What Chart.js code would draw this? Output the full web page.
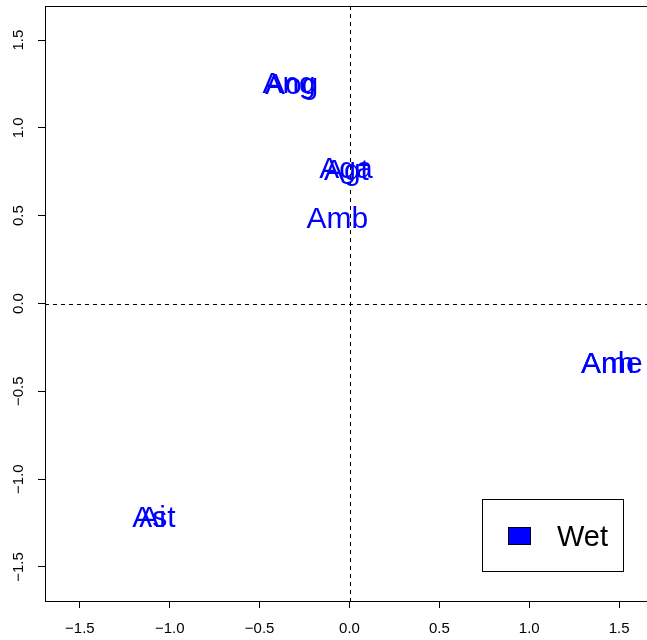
<!DOCTYPE html>
<html lang="en">
<head>
    <meta charset="UTF-8">
    <title>Ordination plot</title>
    <script type="text/javascript" src="https://cdn.jsdelivr.net/npm/chart.js@4.4.0/dist/chart.umd.min.js"></script>
    <style type="text/css">
        html, body {
            margin: 0; padding: 0;
            overflow: hidden;
            background: #ffffff;
        }
        #container {
            width: 660px;
            height: 640px;
        }
    </style>
</head>

<body>
    <div id="container">
        <canvas id="plot" width="660" height="640"></canvas>
    </div>

    <script>
        // Site labels and their coordinates on the two axes
        const siteLabels = ['Ang', 'Aog', 'Aga', 'Agt', 'Amb', 'Anh', 'Ame', 'Ai', 'Ast'];
        const axis1 = [-0.336, -0.322, -0.02, -0.017, -0.067, 1.437, 1.46, -1.095, -1.088];
        const axis2 = [1.256, 1.25, 0.772, 0.765, 0.487, -0.334, -0.334, -1.214, -1.214];

        const groupName = 'Wet';
        const xTicks = [-1.5, -1.0, -0.5, 0.0, 0.5, 1.0, 1.5];
        const yTicks = [-1.5, -1.0, -0.5, 0.0, 0.5, 1.0, 1.5];
        const axisMin = -1.694;
        const axisMax = 1.694;

        const FONT = '"Liberation Sans", Arial, Helvetica, sans-serif';

        function fmtTick(v) {
            return v.toFixed(1).replace('-', '\u2212');
        }

        // Draws the site names in place of the points
        const siteText = {
            id: 'siteText',
            afterDatasetsDraw(chart) {
                const ctx = chart.ctx;
                const meta = chart.getDatasetMeta(0);
                ctx.save();
                ctx.font = '30px ' + FONT;
                ctx.fillStyle = '#0000ff';
                ctx.textAlign = 'center';
                ctx.textBaseline = 'alphabetic';
                meta.data.forEach((pt, i) => {
                    ctx.fillText(siteLabels[i], pt.x, pt.y + 10.5);
                });
                ctx.restore();
            }
        };

        // Frame, dashed zero lines, rotated y labels and the legend box
        const decorations = {
            id: 'decorations',
            beforeDatasetsDraw(chart) {
                const ctx = chart.ctx;
                const area = chart.chartArea;
                const xs = chart.scales.x;
                const ys = chart.scales.y;
                ctx.save();
                ctx.strokeStyle = '#000000';
                ctx.lineWidth = 1;
                ctx.setLineDash([4, 4]);
                const x0 = Math.round(xs.getPixelForValue(0)) + 0.5;
                const y0 = Math.round(ys.getPixelForValue(0)) + 0.5;
                ctx.beginPath();
                ctx.moveTo(x0, area.top);
                ctx.lineTo(x0, area.bottom);
                ctx.moveTo(area.left, y0);
                ctx.lineTo(area.right, y0);
                ctx.stroke();
                ctx.restore();
            },
            afterDraw(chart) {
                const ctx = chart.ctx;
                const area = chart.chartArea;
                const ys = chart.scales.y;
                ctx.save();
                ctx.strokeStyle = '#000000';
                ctx.lineWidth = 1;
                ctx.strokeRect(area.left + 0.5, area.top + 0.5, area.right - area.left, area.bottom - area.top);

                // y tick labels, rotated like base R
                ctx.fillStyle = '#000000';
                ctx.font = '15px ' + FONT;
                ctx.textAlign = 'center';
                ctx.textBaseline = 'middle';
                yTicks.forEach(v => {
                    const py = ys.getPixelForValue(v);
                    ctx.save();
                    ctx.translate(19, py);
                    ctx.rotate(-Math.PI / 2);
                    ctx.fillText(fmtTick(v), 0, 0);
                    ctx.restore();
                });

                // legend
                ctx.lineWidth = 1;
                ctx.strokeStyle = '#000000';
                ctx.strokeRect(482.5, 499.5, 141, 72);
                ctx.fillStyle = '#0000ff';
                ctx.fillRect(508.5, 527.5, 22, 17);
                ctx.strokeRect(508.5, 527.5, 22, 17);
                ctx.fillStyle = '#000000';
                ctx.font = '29px ' + FONT;
                ctx.textAlign = 'left';
                ctx.textBaseline = 'alphabetic';
                ctx.fillText(chart.data.datasets[0].label, 557, 546);
                ctx.restore();
            }
        };

        const points = axis1.map((x, i) => ({ x: x, y: axis2[i] }));

        new Chart(document.getElementById('plot'), {
            type: 'scatter',
            data: {
                datasets: [{
                    label: groupName,
                    data: points,
                    pointRadius: 0,
                    pointHoverRadius: 0,
                    backgroundColor: '#0000ff',
                    borderColor: '#0000ff'
                }]
            },
            options: {
                responsive: false,
                animation: false,
                devicePixelRatio: 1,
                events: [],
                layout: { padding: { top: 6, right: 6, left: 0, bottom: 0 } },
                plugins: {
                    legend: { display: false },
                    tooltip: { enabled: false }
                },
                scales: {
                    x: {
                        type: 'linear',
                        min: axisMin,
                        max: axisMax,
                        afterBuildTicks: s => { s.ticks = xTicks.map(v => ({ value: v })); },
                        afterFit: s => { s.height = 39; s.paddingLeft = 0; s.paddingRight = 0; },
                        border: { display: true, color: '#000000', width: 1 },
                        grid: {
                            drawOnChartArea: false,
                            drawTicks: true,
                            tickLength: 7,
                            tickColor: '#000000'
                        },
                        ticks: {
                            color: '#000000',
                            font: { family: FONT, size: 15 },
                            padding: 12,
                            maxRotation: 0,
                            autoSkip: false,
                            callback: v => fmtTick(v)
                        }
                    },
                    y: {
                        type: 'linear',
                        min: axisMin,
                        max: axisMax,
                        afterBuildTicks: s => { s.ticks = yTicks.map(v => ({ value: v })); },
                        afterFit: s => { s.width = 45; s.paddingTop = 0; s.paddingBottom = 0; },
                        border: { display: true, color: '#000000', width: 1 },
                        grid: {
                            drawOnChartArea: false,
                            drawTicks: true,
                            tickLength: 7,
                            tickColor: '#000000'
                        },
                        ticks: {
                            color: 'rgba(0,0,0,0)',
                            font: { family: FONT, size: 1 },
                            autoSkip: false,
                            callback: v => fmtTick(v)
                        }
                    }
                }
            },
            plugins: [decorations, siteText]
        });
    </script>
</body>

</html>
